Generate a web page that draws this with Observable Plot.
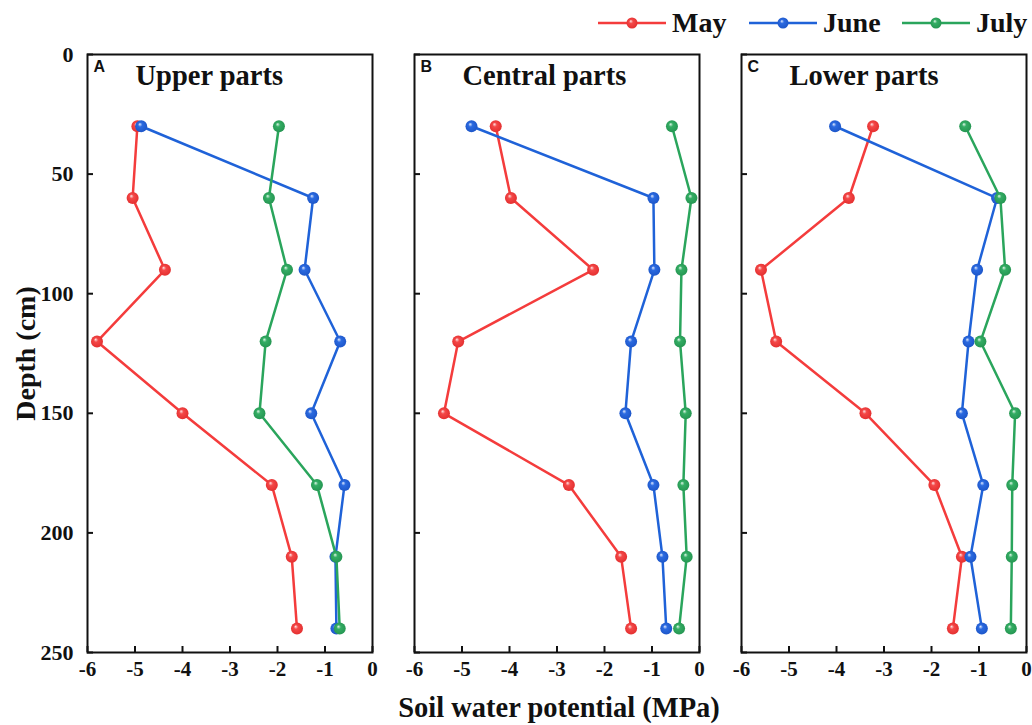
<!DOCTYPE html>
<html>
<head>
<meta charset="utf-8">
<script src="https://cdn.jsdelivr.net/npm/d3@7"></script>
<script src="https://cdn.jsdelivr.net/npm/@observablehq/plot@0.6"></script>
<style>
  html, body { margin: 0; padding: 0; background: #fff; }
  body { width: 1032px; height: 725px; position: relative; overflow: hidden; font-family: "Liberation Serif", "Times New Roman", serif; }
  #legend { height: 40px; position: relative; }
  .leg { position: absolute; top: 7px; display: flex; align-items: center; font-weight: bold; font-size: 28px; color: #111; }
  .leg svg { margin-right: 6px; }
  #xlabel { font-weight: bold; font-size: 28.5px; color: #111; position: absolute; left: 0; width: 1032px; top: 692px; }
  #xlabel span { position: absolute; left: 559px; transform: translateX(-50%); white-space: nowrap; }
</style>
</head>
<body>
<svg width="0" height="0" style="position:absolute">
  <defs>
    <radialGradient id="g-May" cx="0.5" cy="0.5" r="0.6" fx="0.38" fy="0.32">
      <stop offset="0" stop-color="#ffe6e6"/>
      <stop offset="0.3" stop-color="#f44848"/>
      <stop offset="1" stop-color="#e02a2a"/>
    </radialGradient>
    <radialGradient id="g-June" cx="0.5" cy="0.5" r="0.6" fx="0.38" fy="0.32">
      <stop offset="0" stop-color="#e3ecff"/>
      <stop offset="0.3" stop-color="#2b6ae0"/>
      <stop offset="1" stop-color="#1a52c4"/>
    </radialGradient>
    <radialGradient id="g-July" cx="0.5" cy="0.5" r="0.6" fx="0.38" fy="0.32">
      <stop offset="0" stop-color="#e2f7ea"/>
      <stop offset="0.3" stop-color="#34ad64"/>
      <stop offset="1" stop-color="#22914e"/>
    </radialGradient>
  </defs>
</svg>
<div id="legend"></div>
<div id="chart"></div>
<div id="xlabel"><span>Soil water potential (MPa)</span></div>
<script>
// ---- data ----
const depths = [30, 60, 90, 120, 150, 180, 210, 240];
const panels = ["Upper parts", "Central parts", "Lower parts"];
const panelLetters = ["A", "B", "C"];
const months = ["May", "June", "July"];
const monthColors = ["#f43c3c", "#1f62d8", "#2aa55c"];
const xTicks = [-6, -5, -4, -3, -2, -1, 0];
const yTicks = [0, 50, 100, 150, 200, 250];

const mayUpper   = [-4.95, -5.05, -4.37, -5.80, -4.00, -2.12, -1.70, -1.59];
const juneUpper  = [-4.87, -1.25, -1.43, -0.68, -1.29, -0.59, -0.78, -0.76];
const julyUpper  = [-1.97, -2.18, -1.80, -2.25, -2.38, -1.17, -0.76, -0.69];

const mayCentral  = [-4.29, -3.97, -2.24, -5.08, -5.38, -2.75, -1.65, -1.44];
const juneCentral = [-4.80, -0.97, -0.95, -1.44, -1.56, -0.97, -0.78, -0.70];
const julyCentral = [-0.58, -0.17, -0.38, -0.41, -0.29, -0.34, -0.27, -0.43];

const mayLower  = [-3.23, -3.74, -5.59, -5.27, -3.39, -1.94, -1.36, -1.55];
const juneLower = [-4.03, -0.62, -1.04, -1.22, -1.36, -0.91, -1.18, -0.94];
const julyLower = [-1.29, -0.55, -0.45, -0.97, -0.24, -0.30, -0.31, -0.33];

const seriesByPanel = [
  [mayUpper, juneUpper, julyUpper],
  [mayCentral, juneCentral, julyCentral],
  [mayLower, juneLower, julyLower]
];

// ---- build rows ----
const rowsByMonth = months.map((m, mi) => {
  const rows = [];
  panels.forEach((p, pi) => {
    seriesByPanel[pi][mi].forEach((v, di) => rows.push({panel: p, month: m, depth: depths[di], value: v}));
  });
  return rows;
});
const panelInfo = panels.map((p, i) => ({panel: p, letter: panelLetters[i]}));

const marks = [];
months.forEach((m, mi) => {
  marks.push(Plot.line(rowsByMonth[mi], {x: "value", y: "depth", fx: "panel", z: "panel", stroke: monthColors[mi], strokeWidth: 2.5}));
  marks.push(Plot.dot(rowsByMonth[mi], {x: "value", y: "depth", fx: "panel", r: 6, fill: `url(#g-${m})`, stroke: "none"}));
});

const plot = Plot.plot({
  width: 1032,
  height: 647,
  marginTop: 14,
  marginBottom: 35,
  marginLeft: 86,
  marginRight: 5,
  style: {fontFamily: "'Liberation Serif', 'Times New Roman', serif", fontWeight: "bold", fontSize: "21px", color: "#111", background: "transparent"},
  fx: {domain: panels, paddingInner: 0.127, paddingOuter: 0, axis: null},
  x: {domain: [-6, 0]},
  y: {domain: [0, 250], reverse: true},
  marks: [
    // x tick labels on every panel
    Plot.axisX({ticks: xTicks, tickSize: 0, tickPadding: 9, tickFormat: d => String(d), label: null, fontSize: 21, fontWeight: "bold"}),
    // inward x ticks
    Plot.axisX({ticks: xTicks, tickSize: -6, tickFormat: () => "", label: null, strokeWidth: 2}),
    // y tick labels on first panel
    Plot.axisY({ticks: yTicks, tickSize: 0, tickPadding: 14, tickFormat: d => String(d), label: "Depth (cm)", labelAnchor: "center", labelArrow: "none", labelOffset: 72, fontSize: 22, fontWeight: "bold"}),
    // inward y ticks on every panel
    Plot.axisY({ticks: yTicks, tickSize: -6, tickFormat: () => "", label: null, facetAnchor: null, strokeWidth: 2}),
    Plot.frame({stroke: "#111", strokeWidth: 2}),
    Plot.text(panelInfo, {fx: "panel", text: "letter", frameAnchor: "top-left", dx: 6, dy: 6, textAnchor: "start", lineAnchor: "top", fontFamily: "'Liberation Sans', Arial, sans-serif", fontWeight: "bold", fontSize: 16}),
    Plot.text(panelInfo, {fx: "panel", text: "panel", frameAnchor: "top-left", dx: 48, dy: 10, textAnchor: "start", lineAnchor: "top", fontWeight: "bold", fontSize: 28.5}),
    ...marks
  ]
});
document.getElementById("chart").appendChild(plot);

// style the y-axis label
d3.select(plot).selectAll("text").filter(function () { return this.textContent === "Depth (cm)"; })
  .style("font-size", "28px").style("font-weight", "bold");

// ---- legend ----
const legendPos = [598, 749, 902];
const legend = document.getElementById("legend");
months.forEach((m, i) => {
  const div = document.createElement("div");
  div.className = "leg";
  div.style.left = legendPos[i] + "px";
  div.innerHTML = `<svg width="68" height="14"><line x1="0" x2="68" y1="7" y2="7" stroke="${monthColors[i]}" stroke-width="2.5"/><circle cx="34" cy="7" r="5.5" fill="url(#g-${m})"/></svg><span>${m}</span>`;
  legend.appendChild(div);
});
</script>
</body>
</html>
